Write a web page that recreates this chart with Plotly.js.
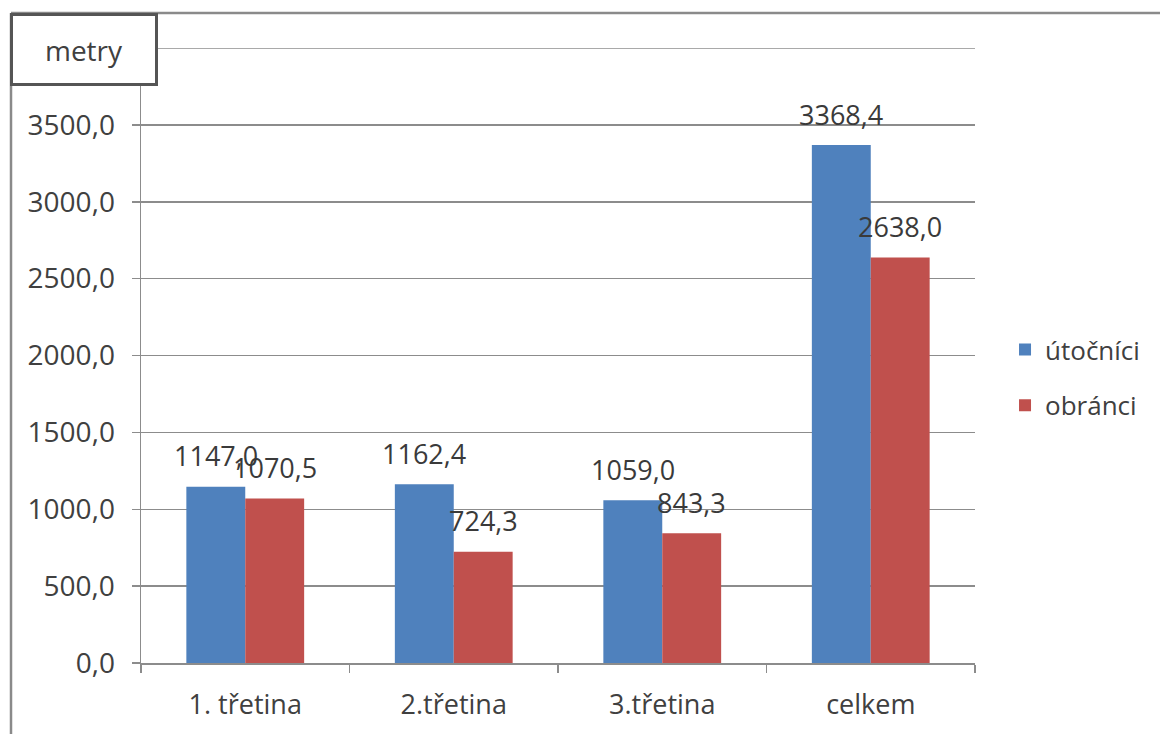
<!DOCTYPE html>
<html>
<head>
<meta charset="utf-8">
<script src="https://cdn.plot.ly/plotly-3.0.1.min.js"></script>
<style>html,body{margin:0;padding:0;background:#fff;}#chart{width:1160px;height:734px;}</style>
</head>
<body>
<div id="chart"></div>
<script>
var categories = ['1. třetina', '2.třetina', '3.třetina', 'celkem'];
var utocnici = [1147.0, 1162.4, 1059.0, 3368.4];
var obranci = [1070.5, 724.3, 843.3, 2638.0];
var seriesNames = ['útočníci', 'obránci'];
var yTicks = [0, 500, 1000, 1500, 2000, 2500, 3000, 3500];
var unitLabel = 'metry';

var W = 1160, H = 734;
var mL = 141, mR = 185, mT = 48, mB = 71;
var plotW = W - mL - mR;
var plotH = H - mT - mB;
var bargap = 0.435;
var catPx = plotW / categories.length;
var barPx = catPx * (1 - bargap) / 2;
var FONT = 'Open Sans, sans-serif';
var TXT = '#404040';

function fmt(v) { return v.toFixed(1).replace('.', ','); }
function px2paperX(px) { return (px - mL) / plotW; }
function px2paperY(py) { return (H - mB - py) / plotH; }

var traces = [
  { type: 'bar', name: seriesNames[0], x: categories, y: utocnici,
    marker: { color: '#4F81BD' }, legendgroup: 'a', hoverinfo: 'none' },
  { type: 'bar', name: seriesNames[1], x: categories, y: obranci,
    marker: { color: '#C0504D' }, legendgroup: 'b', hoverinfo: 'none' }
];

var annotations = [];
[utocnici, obranci].forEach(function (arr, si) {
  arr.forEach(function (v, i) {
    annotations.push({
      x: categories[i], y: v, xref: 'x', yref: 'y',
      text: fmt(v), showarrow: false,
      xshift: (si === 0 ? -1 : 1) * barPx / 2, yshift: 31,
      xanchor: 'center', yanchor: 'middle',
      font: { family: FONT, size: 27, color: '#3a3a3a' }
    });
  });
});
annotations.push({
  x: px2paperX(84), y: px2paperY(49.5), xref: 'paper', yref: 'paper',
  text: unitLabel, showarrow: false, xanchor: 'center', yanchor: 'middle',
  width: 140, height: 65, bgcolor: '#fff', bordercolor: '#555', borderwidth: 3,
  font: { family: FONT, size: 28, color: TXT }
});

var shapes = [
  { type: 'line', xref: 'paper', yref: 'paper', x0: px2paperX(11), x1: px2paperX(1162), y0: px2paperY(13), y1: px2paperY(13), line: { color: '#8a8a8a', width: 2.5 } },
  { type: 'line', xref: 'paper', yref: 'paper', x0: px2paperX(11), x1: px2paperX(11), y0: px2paperY(13), y1: px2paperY(740), line: { color: '#8a8a8a', width: 2.5 } },
  { type: 'line', xref: 'paper', yref: 'y', x0: 0, x1: 1, y0: 4000, y1: 4000, line: { color: '#8c8c8c', width: 1.5 }, layer: 'below' }
];

var layout = {
  width: W, height: H,
  margin: { l: mL, r: mR, t: mT, b: mB, pad: 0 },
  paper_bgcolor: '#fff', plot_bgcolor: '#fff',
  barmode: 'group', bargap: bargap, bargroupgap: 0,
  separators: ', ',
  showlegend: true,
  legend: { x: 1.036, xanchor: 'left', y: 0.464, yanchor: 'middle',
    font: { family: FONT, size: 26, color: TXT }, tracegroupgap: 19, traceorder: 'grouped', itemwidth: 30 },
  xaxis: { type: 'category', showline: true, linecolor: '#8c8c8c', linewidth: 1.5,
    ticks: 'outside', tickson: 'boundaries', ticklen: 8, tickcolor: '#8c8c8c', tickwidth: 1.5,
    showgrid: false, ticklabelstandoff: 17,
    tickfont: { family: FONT, size: 27, color: TXT }, fixedrange: true },
  yaxis: { range: [0, 4000], tickvals: yTicks, tickformat: '.1f', showline: true,
    linecolor: '#8c8c8c', linewidth: 1.5, ticks: 'outside', ticklen: 8, tickcolor: '#8c8c8c', tickwidth: 1.5,
    showgrid: true, gridcolor: '#8c8c8c', gridwidth: 1.5, zeroline: false, ticklabelstandoff: 11,
    tickfont: { family: FONT, size: 28, color: TXT }, fixedrange: true },
  annotations: annotations,
  shapes: shapes
};

Plotly.newPlot('chart', traces, layout, { staticPlot: true, displayModeBar: false });
</script>
</body>
</html>
